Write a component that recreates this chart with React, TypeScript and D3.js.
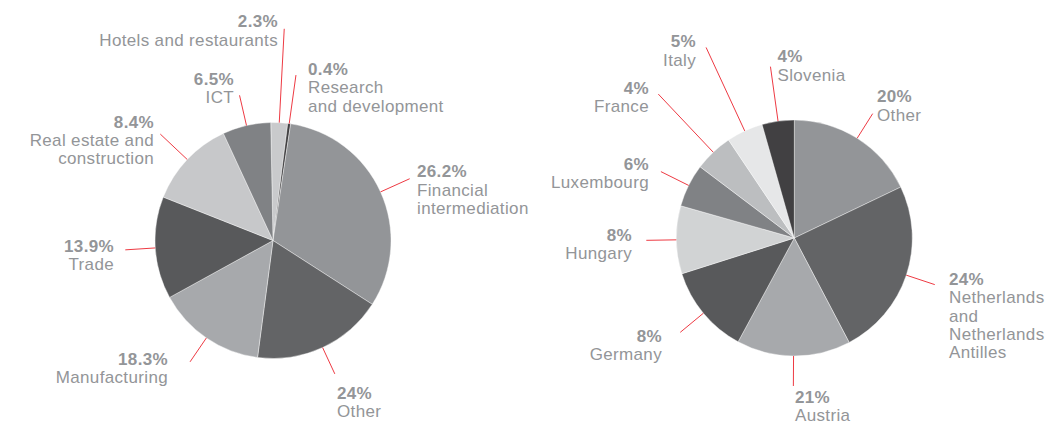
import React from "react";
import * as d3 from "d3";

// ---- Data: left pie (sectors) ----
const sectorNames = [
  ["Hotels and restaurants"],
  ["Research", "and development"],
  ["Financial", "intermediation"],
  ["Other"],
  ["Manufacturing"],
  ["Trade"],
  ["Real estate and", "construction"],
  ["ICT"],
];
const sectorLabels = ["2.3%", "0.4%", "26.2%", "24%", "18.3%", "13.9%", "8.4%", "6.5%"];
// slice sizes as drawn in the picture
const sectorShares = [2.3, 0.4, 31.7, 18.0, 14.9, 14.0, 12.1, 6.6];
const sectorColors = ["#c9cacc", "#414042", "#939598", "#636466", "#a7a9ac", "#58595b", "#c7c8ca", "#808285"];

// ---- Data: right pie (countries) ----
const countryNames = [
  ["Other"],
  ["Netherlands", "and", "Netherlands", "Antilles"],
  ["Austria"],
  ["Germany"],
  ["Hungary"],
  ["Luxembourg"],
  ["France"],
  ["Italy"],
  ["Slovenia"],
];
const countryLabels = ["20%", "24%", "21%", "8%", "8%", "6%", "4%", "5%", "4%"];
const countryShares = [17.9, 24.4, 15.6, 12.2, 9.3, 5.9, 5.3, 5.0, 4.4];
const countryColors = ["#939598", "#636466", "#a7a9ac", "#58595b", "#d1d3d4", "#808285", "#bcbec0", "#e6e7e8", "#414042"];

// ---- Layout (positions only) ----
const R = 118;
const leftCenter = { x: 273, y: 240.5 };
const rightCenter = { x: 794.3, y: 238 };
const leftStart = (-1.1 * Math.PI) / 180;
const rightStart = 0;
const leftLeader = [212, 167, 150, 147, 147, 148, 155, 149];
const rightLeader = [147, 148, 148, 148, 148, 149, 198, 210, 173];
// label anchor: x, baseline y of first line, text-anchor
const leftLabelPos: [number, number, string][] = [
  [278, 27.3, "end"],
  [308, 75, "start"],
  [417, 177.3, "start"],
  [337, 399, "start"],
  [168, 365, "end"],
  [114, 251.7, "end"],
  [154, 127.7, "end"],
  [234, 85, "end"],
];
const rightLabelPos: [number, number, string][] = [
  [877, 102.3, "start"],
  [949, 285, "start"],
  [795, 403, "start"],
  [662, 341.7, "end"],
  [632, 240.7, "end"],
  [649, 170, "end"],
  [649, 94, "end"],
  [696, 47.3, "end"],
  [777.5, 62.3, "start"],
];

const FONT = '"Liberation Sans", Arial, Helvetica, sans-serif';
const TEXT = "#939598";
const RED = "#ee3a43";
const LINE_H = 18.3;

function Pie({
  center, shares, colors, start, leader, names, labels, pos,
}: {
  center: { x: number; y: number };
  shares: number[];
  colors: string[];
  start: number;
  leader: number[];
  names: string[][];
  labels: string[];
  pos: [number, number, string][];
}) {
  const pie = d3
    .pie<number>()
    .sort(null)
    .value((d) => d)
    .startAngle(start)
    .endAngle(start + 2 * Math.PI);
  const arcs = pie(shares);
  const arc = d3.arc<d3.PieArcDatum<number>>().innerRadius(0).outerRadius(R);
  return (
    <g>
      <g transform={`translate(${center.x},${center.y})`}>
        {arcs.map((a, i) => (
          <path key={i} d={arc(a) || ""} fill={colors[i]} stroke="#ffffff" strokeWidth={0.4} />
        ))}
        {arcs.map((a, i) => {
          const mid = (a.startAngle + a.endAngle) / 2;
          const x1 = Math.sin(mid) * R;
          const y1 = -Math.cos(mid) * R;
          const x2 = Math.sin(mid) * leader[i];
          const y2 = -Math.cos(mid) * leader[i];
          return <line key={"l" + i} x1={x1} y1={y1} x2={x2} y2={y2} stroke={RED} strokeWidth={1} />;
        })}
      </g>
      {arcs.map((a, i) => {
        const [x, y, anchor] = pos[i];
        return (
          <text
            key={"t" + i}
            x={x}
            y={y}
            textAnchor={anchor as any}
            fontFamily={FONT}
            fontSize={17}
            letterSpacing={0.35}
            fill={TEXT}
          >
            <tspan x={x} y={y} fontWeight="bold">
              {labels[i]}
            </tspan>
            {names[i].map((n, j) => (
              <tspan key={j} x={x} y={y + LINE_H * (j + 1)}>
                {n}
              </tspan>
            ))}
          </text>
        );
      })}
    </g>
  );
}

export default function App() {
  return (
    <svg
      width={1046}
      height={425}
      style={{ position: "absolute", left: 0, top: 0, background: "#ffffff" }}
    >
      <Pie
        center={leftCenter}
        shares={sectorShares}
        colors={sectorColors}
        start={leftStart}
        leader={leftLeader}
        names={sectorNames}
        labels={sectorLabels}
        pos={leftLabelPos}
      />
      <Pie
        center={rightCenter}
        shares={countryShares}
        colors={countryColors}
        start={rightStart}
        leader={rightLeader}
        names={countryNames}
        labels={countryLabels}
        pos={rightLabelPos}
      />
    </svg>
  );
}
